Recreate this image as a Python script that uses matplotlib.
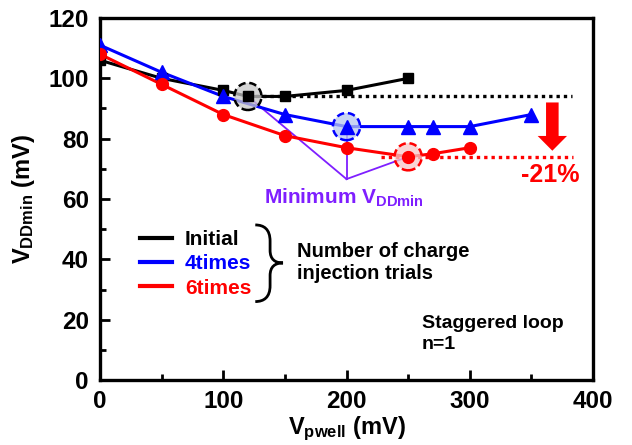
import numpy as np
import matplotlib.pyplot as plt
from matplotlib.lines import Line2D
from matplotlib.patches import Ellipse, FancyArrow, PathPatch
from matplotlib.path import Path

plt.rcParams['font.family'] = ['Liberation Sans', 'DejaVu Sans']
plt.rcParams['font.weight'] = 'bold'
plt.rcParams['axes.labelweight'] = 'bold'
plt.rcParams['mathtext.fontset'] = 'custom'
plt.rcParams['mathtext.rm'] = 'Liberation Sans:bold'
plt.rcParams['mathtext.bf'] = 'Liberation Sans:bold'
plt.rcParams['mathtext.it'] = 'Liberation Sans:bold'

# data ------------------------------------------------------------------
vp_init = [0, 50, 100, 120, 150, 200, 250]
vdd_init = [106, 100, 96, 94, 94, 96, 100]

vp_4 = [0, 50, 100, 150, 200, 250, 270, 300, 350]
vdd_4 = [111, 102, 94, 88, 84, 84, 84, 84, 88]

vp_6 = [0, 50, 100, 150, 200, 250, 270, 300]
vdd_6 = [108, 98, 88, 81, 77, 74, 75, 77]

series_labels = ['Initial', '4times', '6times']
series_colors = ['black', '#0000FF', '#FF0000']
series_markers = ['s', '^', 'o']
series_msize = [7.5, 10, 8.5]

# minimum points of each series
min_vp = [120, 200, 250]
min_vdd = [94, 84, 74]
min_fill = ['#c8c8c8', '#b8c8f0', '#f8c8c8']

purple = '#7F1FFF'

fig = plt.figure(figsize=(6.32, 4.45), dpi=100)
ax = fig.add_axes([100/632, 1 - 380/445, 493/632, 362/445])

data = [(vp_init, vdd_init), (vp_4, vdd_4), (vp_6, vdd_6)]
for i, (x, y) in enumerate(data):
    ax.plot(x, y, '-', color=series_colors[i], lw=2.2, zorder=2)

# purple lines meeting at the "Minimum VDDmin" point
vx, vy = 200, 66.6
for i in range(3):
    ax.plot([vx, min_vp[i]], [vy, min_vdd[i]], color=purple, lw=1.3, zorder=1.5)

# dotted reference levels
ax.plot([min_vp[0], 383], [min_vdd[0], min_vdd[0]], color='black', lw=2.4,
        dashes=(1, 1.2), zorder=1.8)
ax.plot([228, 384], [min_vdd[2], min_vdd[2]], color='#FF0000', lw=2.4,
        dashes=(1, 1.2), zorder=1.8)

# dashed circles around minima
for i in range(3):
    e = Ellipse((min_vp[i], min_vdd[i]), width=22, height=9,
                facecolor=min_fill[i], alpha=0.75, edgecolor='none', zorder=3)
    ax.add_patch(e)
    e2 = Ellipse((min_vp[i], min_vdd[i]), width=22, height=9,
                 facecolor='none', edgecolor=series_colors[i], lw=1.8,
                 linestyle=(0, (3, 1.5)), zorder=3.1)
    ax.add_patch(e2)

for i, (x, y) in enumerate(data):
    ax.plot(x, y, linestyle='none', marker=series_markers[i],
            ms=series_msize[i], color=series_colors[i], zorder=4)

# red arrow and -21%
ax.add_patch(FancyArrow(367, 92, 0, -16, width=10.2, head_width=23.8,
                        head_length=4.9, length_includes_head=True,
                        color='#FF0000', lw=0, zorder=4))
ax.text(365, 68, '-21%', color='#FF0000', fontsize=18, fontweight='bold',
        ha='center', va='center')

ax.text(198, 60.3, r'Minimum $\mathbf{V_{DDmin}}$', color=purple, fontsize=15,
        ha='center', va='center')

# legend (lines only)
handles = [Line2D([], [], color=c, lw=3) for c in series_colors]
ax.legend(handles, series_labels, labelcolor=series_colors, frameon=False,
          loc='center left', bbox_to_anchor=(40/493, (380-264)/362),
          borderpad=0, borderaxespad=0, handlelength=1.55, handletextpad=0.6,
          labelspacing=0.25, prop={'size': 15, 'weight': 'bold'})

# brace
verts = [(126, 51.4), (133, 51.4), (138, 50), (138, 46),
         (138, 43),
         (138, 40), (142, 38.8), (148.5, 38.8),
         (142, 38.8), (138, 37.6), (138, 34.6),
         (138, 31.3),
         (138, 27.4), (133, 26), (126, 26)]
codes = [Path.MOVETO, Path.CURVE4, Path.CURVE4, Path.CURVE4,
         Path.LINETO,
         Path.CURVE4, Path.CURVE4, Path.CURVE4,
         Path.CURVE4, Path.CURVE4, Path.CURVE4,
         Path.LINETO,
         Path.CURVE4, Path.CURVE4, Path.CURVE4]
ax.add_patch(PathPatch(Path(verts, codes), facecolor='none', edgecolor='black',
                       lw=2.0, zorder=4))

ax.text(160, 38.8, 'Number of charge\ninjection trials', fontsize=14.5,
        ha='left', va='center', linespacing=1.2)
ax.text(261, 21.5, 'Staggered loop\nn=1', fontsize=14, ha='left', va='top',
        linespacing=1.3)

ax.set_xlim(0, 400)
ax.set_ylim(0, 120)
ax.set_xticks([0, 100, 200, 300, 400])
ax.set_xticks([50, 150, 250, 350], minor=True)
ax.set_yticks([0, 20, 40, 60, 80, 100, 120])
ax.set_yticks([10, 30, 50, 70, 90, 110], minor=True)
ax.tick_params(which='both', direction='in', width=2, labelsize=17.5)
ax.tick_params(which='major', length=7)
ax.tick_params(which='minor', length=4)
ax.tick_params(axis='x', pad=7)
ax.tick_params(axis='y', pad=8)
for s in ax.spines.values():
    s.set_linewidth(2.4)

ax.set_xlabel(r'$\mathbf{V_{pwell}}$ (mV)', fontsize=17, fontweight='bold',
              labelpad=1)
ax.set_ylabel(r'$\mathbf{V_{DDmin}}$ (mV)', fontsize=17, fontweight='bold',
              labelpad=8)

fig.savefig('out.png', dpi=100)
